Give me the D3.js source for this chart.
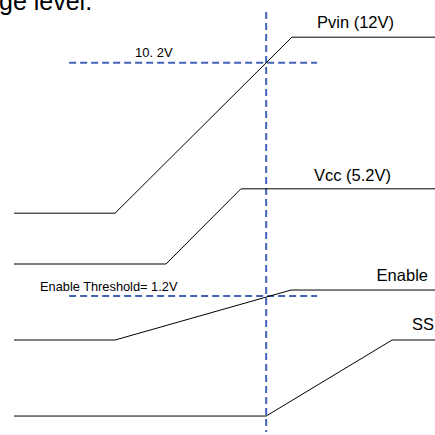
<!DOCTYPE html>
<html>
<head>
<meta charset="utf-8">
<script src="https://cdn.jsdelivr.net/npm/d3@7"></script>
<style>
  html, body { margin: 0; padding: 0; background: #fff; }
  svg { display: block; }
  text { font-family: "Liberation Sans", Arial, sans-serif; fill: #000; }
</style>
</head>
<body>
<svg id="chart" width="435" height="435"></svg>
<script>
// ---- data (time in % of window, level in arbitrary units 0..100) ----
const signalNames = ["Pvin (12V)", "Vcc (5.2V)", "Enable", "SS"];
const pvinTime  = [0, 24.0, 66.0, 100];
const pvinLevel = [52.1, 52.1, 94.0, 94.0];
const vccTime   = [0, 36.1, 53.9, 100];
const vccLevel  = [40.0, 40.0, 57.9, 57.9];
const enTime    = [0, 24.0, 65.8, 100];
const enLevel   = [21.9, 21.9, 33.8, 33.8];
const ssTime    = [0, 59.9, 89.8, 100];
const ssLevel   = [3.8, 3.8, 21.9, 21.9];

const thresholdLabels = ["10. 2V", "Enable Threshold= 1.2V"];
const thresholdLevel  = [87.9, 32.4];
const thresholdStart  = 13.1;
const thresholdEnd    = 72.0;
const markerTime      = 59.9;
const captionText     = "ge level.";

// ---- scales ----
const svg = d3.select("#chart");
const x = d3.scaleLinear().domain([0, 100]).range([14, 435]);
const y = d3.scaleLinear().domain([0, 100]).range([432, 12]);

const line = d3.line().x(d => x(d[0])).y(d => y(d[1]));

const series = [
  { name: signalNames[0], t: pvinTime, v: pvinLevel },
  { name: signalNames[1], t: vccTime,  v: vccLevel },
  { name: signalNames[2], t: enTime,   v: enLevel },
  { name: signalNames[3], t: ssTime,   v: ssLevel }
];

// caption fragment at top (clipped by the top edge, as in the source)
svg.append("text")
  .attr("x", -1).attr("y", 10)
  .attr("font-size", 25)
  .text(captionText);

// threshold dashed lines
const blue = "#4262b8";
thresholdLevel.forEach((lv, i) => {
  svg.append("line")
    .attr("x1", x(thresholdStart)).attr("x2", x(thresholdEnd))
    .attr("y1", y(lv)).attr("y2", y(lv))
    .attr("stroke", blue).attr("stroke-width", 2)
    .attr("stroke-dasharray", "7,4");
});

// vertical marker
svg.append("line")
  .attr("x1", x(markerTime)).attr("x2", x(markerTime))
  .attr("y1", y(100)).attr("y2", y(0))
  .attr("stroke", blue).attr("stroke-width", 2)
  .attr("stroke-dasharray", "7,4");

// signals
series.forEach(s => {
  svg.append("path")
    .datum(s.t.map((t, i) => [t, s.v[i]]))
    .attr("d", line)
    .attr("fill", "none")
    .attr("stroke", "#000")
    .attr("stroke-width", 1);
});

// threshold labels
svg.append("text")
  .attr("x", 135).attr("y", y(thresholdLevel[0]) - 6)
  .attr("font-size", 13)
  .text(thresholdLabels[0]);
svg.append("text")
  .attr("x", 40).attr("y", y(thresholdLevel[1]) - 4.5)
  .attr("font-size", 12.8)
  .text(thresholdLabels[1]);

// signal labels
const hi = s => y(s.v[s.v.length - 1]);
svg.append("text").attr("x", 317).attr("y", hi(series[0]) - 9)
  .attr("font-size", 16.5).text(series[0].name);
svg.append("text").attr("x", 314).attr("y", hi(series[1]) - 8)
  .attr("font-size", 16.5).text(series[1].name);
svg.append("text").attr("x", 428).attr("y", hi(series[2]) - 9)
  .attr("font-size", 16.5).attr("text-anchor", "end").text(series[2].name);
svg.append("text").attr("x", 434).attr("y", hi(series[3]) - 10)
  .attr("font-size", 16.5).attr("text-anchor", "end").text(series[3].name);
</script>
</body>
</html>
